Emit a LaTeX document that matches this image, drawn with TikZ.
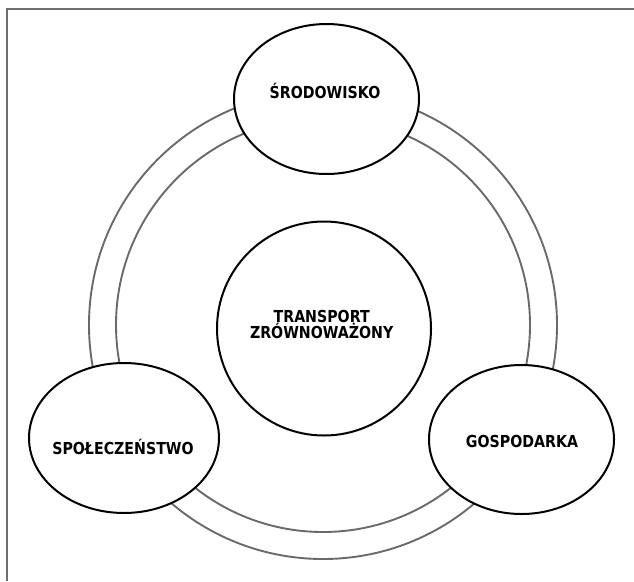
\documentclass[tikz,border=0pt]{standalone}
\usepackage{fontspec}
\setmainfont{DejaVu Sans}[FakeStretch=0.86]
\usetikzlibrary{shapes.geometric}
\definecolor{framegray}{HTML}{6E6E6E}
\definecolor{ringgray}{HTML}{6A6A6A}
\begin{document}
\begin{tikzpicture}[x=1pt,y=-1pt,
  ring/.style={draw=ringgray,line width=1.9pt},
  blob/.style={ellipse,draw=black,fill=white,line width=2pt,inner sep=0pt},
  caption/.style={font=\bfseries\fontsize{16.5}{17}\selectfont,inner sep=0pt,anchor=base,align=center}]
  \useasboundingbox (0,0) rectangle (634,581);
  % page frame: top and left edges only
  \coordinate (ftl) at (7,9);
  \coordinate (ftr) at (634,9);
  \coordinate (fbl) at (7,581);
  \draw[framegray,line width=2.2pt] (ftr) -- (ftl) -- (fbl);
  % double ring linking the three pillars
  \coordinate (rc) at (323,325);
  \draw[ring] (rc) circle[radius=234];
  \draw[ring] (rc) circle[radius=207];
  % pillars
  \node[blob,minimum width=185,minimum height=150] (env) at (326.5,99) {};
  \node[blob,minimum width=190,minimum height=150] (soc) at (124,438) {};
  \node[blob,minimum width=185,minimum height=149] (eco) at (521.5,439.5) {};
  \node[blob,circle,minimum size=214] (core) at (324,328.5) {};
  % labels
  \node[caption] (envt) at (325,98) {ŚRODOWISKO};
  \node[caption] (soct) at (123,454) {SPOŁECZEŃSTWO};
  \node[caption] (ecot) at (522,447) {GOSPODARKA};
  \node[caption] (coret1) at (321.7,322) {TRANSPORT};
  \node[caption] (coret2) at (321.7,338) {ZRÓWNOWAŻONY};
\end{tikzpicture}
\end{document}
